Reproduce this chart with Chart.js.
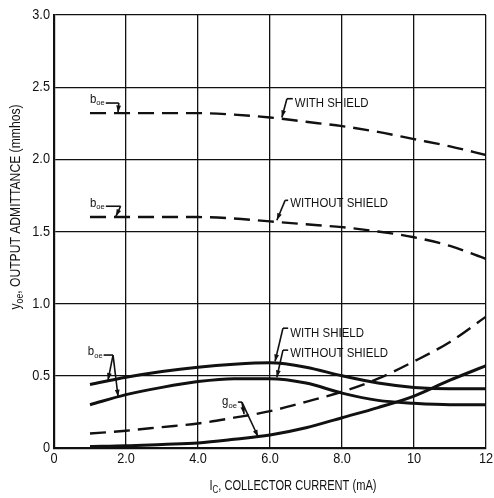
<!DOCTYPE html>
<html>
<head>
<meta charset="utf-8">
<script src="https://cdn.jsdelivr.net/npm/chart.js@4.4.1/dist/chart.umd.min.js"></script>
<style>
  html, body { margin: 0; padding: 0; background: #fff; }
  canvas { display: block; }
</style>
</head>
<body>
<canvas id="admittance" width="494" height="498"></canvas>
<script>
// Collector current (mA)
const currentMa = [1, 2, 3, 4, 5, 6, 7, 8, 9, 10, 11, 12];

// boe, upper pair (dashed)
const boeHighShield   = [2.32, 2.32, 2.32, 2.32, 2.31, 2.29, 2.26, 2.23, 2.19, 2.14, 2.09, 2.03];
const boeHighNoShield = [1.60, 1.60, 1.60, 1.60, 1.59, 1.57, 1.55, 1.53, 1.50, 1.46, 1.40, 1.31];

// boe, lower pair (solid)
const boeLowShield    = [0.44, 0.49, 0.53, 0.56, 0.58, 0.59, 0.56, 0.50, 0.45, 0.42, 0.41, 0.41];
const boeLowNoShield  = [0.30, 0.37, 0.42, 0.46, 0.48, 0.48, 0.45, 0.38, 0.33, 0.31, 0.30, 0.30];

// goe
const goeDashed = [0.10, 0.12, 0.145, 0.17, 0.21, 0.255, 0.32, 0.39, 0.48, 0.60, 0.735, 0.91];
const goeSolid  = [0.01, 0.015, 0.025, 0.035, 0.06, 0.09, 0.14, 0.21, 0.28, 0.36, 0.47, 0.57];

// Tick labels
const xTickLabels = ['0', '2.0', '4.0', '6.0', '8.0', '10', '12'];
const yTickLabels = ['0', '0.5', '1.0', '1.5', '2.0', '2.5', '3.0'];

const FONT = "'Liberation Sans', Arial, sans-serif";
const NARROW = 0.8;   // horizontal squeeze for the condensed lettering
const INK = '#111';

function series(values, dashed) {
    return {
        data: currentMa.map((x, i) => ({ x: x, y: values[i] })),
        borderColor: INK,
        borderWidth: dashed ? 2.4 : 3,
        borderDash: dashed ? [16, 8] : [],
        pointRadius: 0,
        fill: false,
        cubicInterpolationMode: 'monotone'
    };
}

// Callouts: label position, leader corner and arrow tips, in data units
const callouts = [
    { text: 'b', sub: 'oe', x: 1.0, y: 2.415, hook: [1.8, 2.39], tips: [[1.78, 2.325]] },
    { text: 'b', sub: 'oe', x: 1.0, y: 1.695, hook: [1.85, 1.675], tips: [[1.72, 1.605]] },
    { text: 'WITH SHIELD', x: 6.69, y: 2.39, hook: [6.47, 2.42], tips: [[6.33, 2.29]] },
    { text: 'WITHOUT SHIELD', x: 6.56, y: 1.693, hook: [6.42, 1.716], tips: [[6.19, 1.578]] },
    { text: 'b', sub: 'oe', x: 0.94, y: 0.664, hook: [1.64, 0.644], tips: [[1.5, 0.47], [1.78, 0.355]] },
    { text: 'WITH SHIELD', x: 6.56, y: 0.796, hook: [6.36, 0.83], tips: [[6.14, 0.6]] },
    { text: 'WITHOUT SHIELD', x: 6.56, y: 0.657, hook: [6.36, 0.678], tips: [[6.19, 0.49]] },
    { text: 'g', sub: 'oe', x: 4.67, y: 0.318, hook: [5.22, 0.318], tips: [[5.28, 0.235], [5.67, 0.078]] }
];

// Draws squeezed text, returns the drawn width
function squeezed(ctx, text, x, y, size, sx, align) {
    ctx.font = size + 'px ' + FONT;
    const w = ctx.measureText(text).width * sx;
    let left = x;
    if (align === 'right') left = x - w;
    else if (align === 'center') left = x - w / 2;
    ctx.save();
    ctx.translate(left, y);
    ctx.scale(sx, 1);
    ctx.textAlign = 'left';
    ctx.fillText(text, 0, 0);
    ctx.restore();
    return w;
}

// Text made of base + subscript + tail, fitted to a given width when asked
function subscripted(ctx, parts, x, y, size, sx) {
    let cx = x;
    cx += squeezed(ctx, parts[0], cx, y, size, sx);
    cx += squeezed(ctx, parts[1], cx, y + size * 0.3, Math.round(size * 0.7), sx);
    if (parts[2]) cx += squeezed(ctx, parts[2], cx, y, size, sx);
    return cx - x;
}

function measureParts(ctx, parts, size) {
    ctx.font = size + 'px ' + FONT;
    let w = ctx.measureText(parts[0]).width + (parts[2] ? ctx.measureText(parts[2]).width : 0);
    ctx.font = Math.round(size * 0.7) + 'px ' + FONT;
    return w + ctx.measureText(parts[1]).width;
}

function arrow(ctx, x0, y0, x1, y1) {
    ctx.beginPath();
    ctx.moveTo(x0, y0);
    ctx.lineTo(x1, y1);
    ctx.stroke();
    const a = Math.atan2(y1 - y0, x1 - x0);
    const len = 7, wid = 2.4;
    ctx.beginPath();
    ctx.moveTo(x1, y1);
    ctx.lineTo(x1 - len * Math.cos(a) + wid * Math.sin(a), y1 - len * Math.sin(a) - wid * Math.cos(a));
    ctx.lineTo(x1 - len * Math.cos(a) - wid * Math.sin(a), y1 - len * Math.sin(a) + wid * Math.cos(a));
    ctx.closePath();
    ctx.fill();
}

const annotatePlugin = {
    id: 'annotate',
    afterDraw(chart) {
        const ctx = chart.ctx;
        const xs = chart.scales.x, ys = chart.scales.y;
        ctx.save();
        ctx.fillStyle = INK;
        ctx.strokeStyle = INK;
        ctx.textBaseline = 'middle';

        // Tick labels
        xs.ticks.forEach(t => {
            squeezed(ctx, xTickLabels[Math.round(t.value / 2)], xs.getPixelForValue(t.value), 459, 15, 0.85, 'center');
        });
        ys.ticks.forEach(t => {
            squeezed(ctx, yTickLabels[Math.round(t.value * 2)], 50, ys.getPixelForValue(t.value), 15, 0.85, 'right');
        });

        // Callouts
        callouts.forEach(c => {
            const tx = xs.getPixelForValue(c.x);
            const ty = ys.getPixelForValue(c.y);
            const hx = xs.getPixelForValue(c.hook[0]);
            const hy = ys.getPixelForValue(c.hook[1]);
            ctx.lineWidth = 1.6;
            ctx.beginPath();
            if (c.sub) {
                const w = subscripted(ctx, [c.text, c.sub], tx, ty, 12, 0.95);
                ctx.moveTo(tx + w + 1, hy);
            } else {
                squeezed(ctx, c.text, tx, ty, 13, 0.88);
                ctx.moveTo(tx - 2, hy);
            }
            ctx.lineTo(hx, hy);
            ctx.stroke();
            c.tips.forEach(t => {
                arrow(ctx, hx, hy, xs.getPixelForValue(t[0]), ys.getPixelForValue(t[1]));
            });
        });

        // Y axis title, rotated
        const yParts = ['y', 'oe', ', OUTPUT ADMITTANCE (mmhos)'];
        const ySize = 14;
        const ySx = 205 / measureParts(ctx, yParts, ySize);
        ctx.save();
        ctx.translate(16, 207);
        ctx.rotate(-Math.PI / 2);
        subscripted(ctx, yParts, -102.5, 0, ySize, ySx);
        ctx.restore();

        // X axis title
        const xParts = ['I', 'C', ', COLLECTOR CURRENT (mA)'];
        const xSize = 14;
        const xSx = 167 / measureParts(ctx, xParts, xSize);
        subscripted(ctx, xParts, 293 - 83.5, 486, xSize, xSx);

        ctx.restore();
    }
};

new Chart(document.getElementById('admittance').getContext('2d'), {
    type: 'line',
    data: {
        datasets: [
            series(boeHighShield, true),
            series(boeHighNoShield, true),
            series(boeLowShield, false),
            series(boeLowNoShield, false),
            series(goeDashed, true),
            series(goeSolid, false)
        ]
    },
    options: {
        responsive: false,
        animation: false,
        layout: { padding: { top: 15, right: 8, left: 0, bottom: 0 } },
        plugins: {
            legend: { display: false },
            tooltip: { enabled: false }
        },
        scales: {
            x: {
                type: 'linear',
                min: 0,
                max: 12,
                afterFit(scale) { scale.height = 50; },
                ticks: { stepSize: 2, display: false },
                grid: { color: INK, lineWidth: 1.3, drawTicks: false },
                border: { color: INK, width: 2.2 }
            },
            y: {
                min: 0,
                max: 3,
                afterFit(scale) { scale.width = 54; },
                ticks: { stepSize: 0.5, display: false },
                grid: { color: INK, lineWidth: 1.3, drawTicks: false },
                border: { color: INK, width: 2.2 }
            }
        }
    },
    plugins: [annotatePlugin]
});
</script>
</body>
</html>
